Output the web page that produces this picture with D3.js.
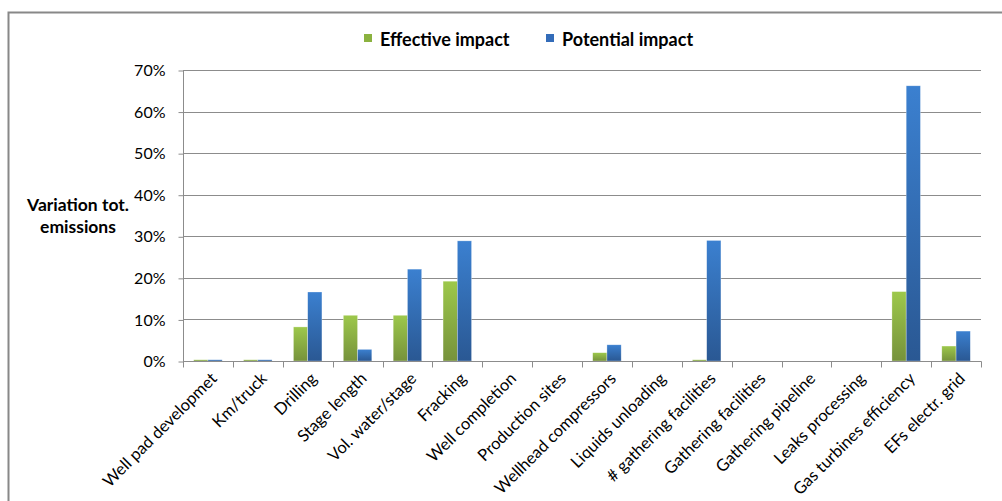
<!DOCTYPE html>
<html><head><meta charset="utf-8">
<script src="https://cdn.jsdelivr.net/npm/d3@7"></script>
<style>
html,body{margin:0;padding:0;background:#fff;}
text{font-family:Lato,"Open Sans",sans-serif;fill:#000;}
</style></head><body>
<svg id="c" width="1002" height="501"></svg>
<script>
const categories = ["Well pad developmet","Km/truck","Drilling","Stage length","Vol. water/stage","Fracking","Well completion","Production sites","Wellhead compressors","Liquids unloading","# gathering facilities","Gathering facilities","Gathering pipeline","Leaks processing","Gas turbines efficiency","EFs electr. grid"];
const effective = [0.003,0.003,0.082,0.110,0.110,0.192,0,0,0.020,0,0.003,0,0,0,0.167,0.036];
const potential = [0.003,0.003,0.166,0.028,0.221,0.289,0,0,0.039,0,0.290,0,0,0,0.662,0.072];
const seriesNames = ["Effective impact","Potential impact"];
const yTicks = [0,0.1,0.2,0.3,0.4,0.5,0.6,0.7];

const svg = d3.select("#c");
const L=183, R=981, T=70, B=361;

// border
svg.append("path").attr("d","M8.5,510 L8.5,12.5 L1010,12.5").attr("fill","none").attr("stroke","#888").attr("stroke-width",2);

const defs = svg.append("defs");
const g1 = defs.append("linearGradient").attr("id","gGreen").attr("x1",0).attr("y1",0).attr("x2",0).attr("y2",1);
g1.append("stop").attr("offset","0%").attr("stop-color","#9dc84b");
g1.append("stop").attr("offset","100%").attr("stop-color","#76923b");
const g2 = defs.append("linearGradient").attr("id","gBlue").attr("x1",0).attr("y1",0).attr("x2",0).attr("y2",1);
g2.append("stop").attr("offset","0%").attr("stop-color","#3b80d0");
g2.append("stop").attr("offset","100%").attr("stop-color","#2a5893");
const fills = ["url(#gGreen)","url(#gBlue)"];
const legendFills = ["#8bb23f","#336cb9"];

const x = d3.scaleBand().domain(categories).range([L,R]).paddingInner(0).paddingOuter(0);
const y = d3.scaleLinear().domain([0,0.7]).range([B,T]);

// gridlines
svg.append("g").selectAll("line").data(yTicks.slice(1)).join("line")
  .attr("x1",L).attr("x2",R).attr("y1",d=>Math.round(y(d))+0.5).attr("y2",d=>Math.round(y(d))+0.5)
  .attr("stroke","#8c8c8c").attr("stroke-width",1);

// y axis
const yAxis = d3.axisLeft(y).tickValues(yTicks).tickFormat(d3.format(".0%")).tickSize(5).tickPadding(13);
const ya = svg.append("g").attr("transform",`translate(${L+0.5},0.5)`).call(yAxis);
ya.select(".domain").attr("stroke","#8c8c8c").attr("d",`M0,${y(0)} V${y(0.7)}`);
ya.selectAll(".tick line").attr("stroke","#8c8c8c");
ya.selectAll(".tick text").style("font-family","Lato,sans-serif").style("font-size","16px").attr("fill","#333");

// bars
const bw = x.bandwidth()*2/7;
const sub = d3.scaleBand().domain([0,1]).range([0,bw*2]);
const data = categories.map((c,i)=>({c,vals:[effective[i],potential[i]]}));
const cg = svg.append("g").selectAll("g").data(data).join("g")
  .attr("transform",d=>`translate(${x(d.c)+x.bandwidth()*1.5/7},0)`);
cg.selectAll("rect").data(d=>d.vals.map((v,k)=>({v,k}))).join("rect")
  .attr("x",d=>sub(d.k)).attr("width",bw).attr("y",d=>y(d.v)).attr("height",d=>Math.max(0,y(0)-y(d.v)))
  .attr("fill",d=>fills[d.k]).attr("stroke",d=>d.v>0?"rgba(255,255,255,0.5)":"none").attr("stroke-width",0.6);

// x axis
const xAxisG = svg.append("g").attr("transform",`translate(0,${B+0.5})`);
xAxisG.append("line").attr("x1",L).attr("x2",R+0.5).attr("stroke","#8c8c8c");
const bounds = d3.range(categories.length+1).map(i=>L+i*x.bandwidth());
xAxisG.selectAll("line.t").data(bounds).join("line").attr("class","t")
  .attr("x1",d=>Math.round(d)+0.5).attr("x2",d=>Math.round(d)+0.5).attr("y1",0).attr("y2",6).attr("stroke","#8c8c8c");
xAxisG.selectAll("text").data(categories).join("text")
  .attr("transform",d=>`translate(${x(d)+x.bandwidth()/2+6},14) rotate(-45)`)
  .attr("text-anchor","end").attr("dy","0.35em")
  .style("font-size","16.5px").attr("fill","#222").text(d=>d);

// y label
const yl = svg.append("text").attr("text-anchor","middle").style("font-size","17.5px").style("font-weight","bold");
yl.append("tspan").attr("x",78).attr("y",211).text("Variation tot.");
yl.append("tspan").attr("x",78).attr("y",233).text("emissions");

// legend
const leg = svg.append("g");
const legX = [364,546];
seriesNames.forEach((n,i)=>{
  leg.append("rect").attr("x",legX[i]).attr("y",34).attr("width",8).attr("height",8).attr("fill",legendFills[i]);
  leg.append("text").attr("x",legX[i]+16).attr("y",46).style("font-size","18px").style("font-weight","bold").text(n);
});
</script></body></html>
